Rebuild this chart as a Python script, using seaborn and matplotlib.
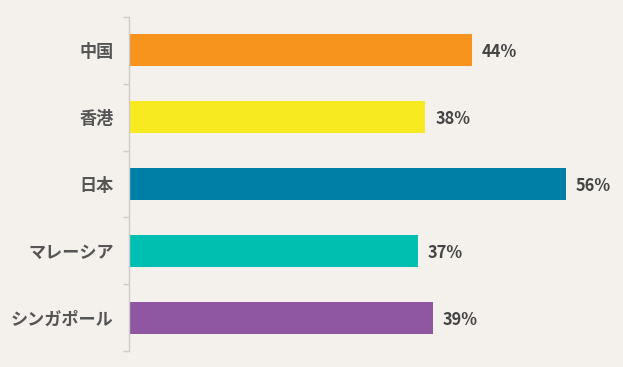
import pandas as pd
import seaborn as sns
import matplotlib.pyplot as plt

# data
countries = ["中国", "香港", "日本", "マレーシア", "シンガポール"]
shares = [44, 38, 56, 37, 39]
bar_colors = ["#f7941e", "#f7ea20", "#007fa6", "#00bfb1", "#8f56a1"]

bg = "#f4f0ec"

sns.set_theme(style="white")
plt.rcParams['font.family'] = ['Noto Sans CJK JP', 'DejaVu Sans']

df = pd.DataFrame({"country": countries, "share": shares})

fig = plt.figure(figsize=(6.23, 3.67), dpi=100, facecolor=bg)
ax = fig.add_axes([129 / 623, 1 - 351 / 367, 468 / 623, 334 / 367])
ax.set_facecolor(bg)

sns.barplot(data=df, x="share", y="country", hue="country", palette=bar_colors,
            orient="h", width=0.48, legend=False, saturation=1, linewidth=0, ax=ax)

for i, v in enumerate(shares):
    ax.text(v + 1.25, i + 0.03, f"{v}%", va="center", ha="left", fontsize=11.8,
            fontweight="bold", color="#444444")

ax.set_xlim(0, 60)
ax.set_ylim(len(countries) - 0.5, -0.5)
ax.set_xlabel("")
ax.set_ylabel("")
ax.set_xticks([])

# ticks between categories on the left spine
ax.set_yticks([i - 0.5 for i in range(len(countries) + 1)], minor=True)
ax.set_yticks(range(len(countries)))
ax.set_yticklabels(countries, fontsize=12.3, fontweight="bold", color="#555555")
ax.tick_params(axis="y", which="major", length=0, pad=11)
ax.tick_params(axis="y", which="minor", length=4, width=1, color="#cccccc", left=True)

for s in ["top", "right", "bottom"]:
    ax.spines[s].set_visible(False)
ax.spines["left"].set_color("#cccccc")
ax.spines["left"].set_linewidth(1)

fig.savefig("out.png", dpi=100, facecolor=bg)
